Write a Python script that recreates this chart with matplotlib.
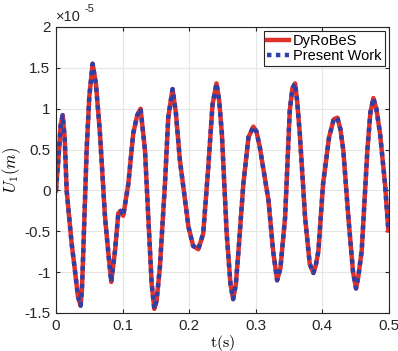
import numpy as np
import matplotlib
matplotlib.use('Agg')
import matplotlib.pyplot as plt
from matplotlib.ticker import FuncFormatter

# values (displacement in units of 1e-5 m)
t = [0, 0.0035, 0.007, 0.010, 0.013, 0.016, 0.020, 0.0235, 0.028, 0.033, 0.037, 0.039,
     0.041, 0.046, 0.050, 0.055, 0.060, 0.066, 0.0736, 0.079, 0.083, 0.0886, 0.0936,
     0.097, 0.101, 0.1086, 0.116, 0.122, 0.127, 0.1336, 0.1386, 0.1436, 0.1476, 0.151,
     0.156, 0.1636, 0.1686, 0.175, 0.180, 0.186, 0.199, 0.206, 0.2137, 0.221, 0.2287,
     0.235, 0.241, 0.245, 0.249, 0.2563, 0.262, 0.266, 0.270, 0.274, 0.2813, 0.289,
     0.2963, 0.301, 0.306, 0.319, 0.326, 0.332, 0.337, 0.344, 0.351, 0.355, 0.359,
     0.362, 0.366, 0.374, 0.381, 0.3864, 0.390, 0.394, 0.401, 0.410, 0.417, 0.4225,
     0.427, 0.4314, 0.439, 0.446, 0.4505, 0.454, 0.459, 0.4675, 0.472, 0.4765, 0.481,
     0.4865, 0.494, 0.499]
u1 = [0, 0.37, 0.80, 0.92, 0.65, 0.0, -0.35, -0.65, -0.95, -1.30, -1.41, -1.20,
      -0.74, 0.49, 1.15, 1.55, 1.30, 0.70, -0.33, -0.80, -1.12, -0.74, -0.28,
      -0.25, -0.31, 0.08, 0.70, 0.92, 1.0, 0.49, -0.33, -1.14, -1.45, -1.35,
      -0.94, 0.08, 0.90, 1.24, 0.95, 0.37, -0.45, -0.68, -0.72, -0.53, 0.29,
      1.05, 1.31, 1.10, 0.70, -0.53, -1.15, -1.33, -1.15, -0.74, 0.08, 0.65,
      0.78, 0.72, 0.53, -0.12, -0.74, -1.10, -0.95, -0.33, 0.98, 1.25, 1.31,
      1.10, 0.70, -0.33, -0.90, -1.01, -0.92, -0.74, 0.08, 0.65, 0.87, 0.89,
      0.75, 0.49, -0.33, -1.00, -1.20, -1.05, -0.74, 0.49, 0.95, 1.13, 1.0,
      0.70, 0.08, -0.49]
xticks = [0, 0.1, 0.2, 0.3, 0.4, 0.5]
yticks = [-1.5, -1, -0.5, 0, 0.5, 1, 1.5, 2]

t = np.array(t)
u1 = np.array(u1) * 1e-5

plt.rcParams['font.family'] = ['Liberation Sans', 'DejaVu Sans']
plt.rcParams['mathtext.fontset'] = 'cm'

fig = plt.figure(figsize=(3.98, 3.51), dpi=100)
ax = fig.add_axes([0.1407, 0.1083, 0.8367, 0.8148])

ax.plot(t, u1, '-', color='#e0302a', lw=3.2, label='DyRoBeS')
ax.plot(t, u1, color='#2f3fa8', lw=3.2, dashes=(1, 1), label='Present Work')

ax.set_xlim(0, 0.5)
ax.set_ylim(-1.5e-5, 2e-5)
ax.set_xticks(xticks)
ax.xaxis.set_major_formatter(FuncFormatter(lambda v, p: '%g' % round(v, 3)))
ax.set_yticks(np.array(yticks) * 1e-5)
ax.yaxis.set_major_formatter(FuncFormatter(lambda v, p: '%g' % round(v * 1e5, 3)))
# exponent label above the axes, MATLAB style
ax.text(0.0, 1.012, '\u00d710', transform=ax.transAxes, fontsize=10.5,
        color='#262626', ha='left', va='bottom')
ax.text(0.087, 1.045, '-5', transform=ax.transAxes, fontsize=8,
        color='#262626', ha='left', va='bottom')

ax.grid(True, color='#e6e6e6', lw=0.8)
ax.set_axisbelow(True)
ax.tick_params(direction='in', length=3, width=0.8, labelsize=11,
               colors='#262626', top=True, right=True, pad=4)
for s in ax.spines.values():
    s.set_color('#262626')
    s.set_linewidth(0.8)

ax.set_xlabel(r'$\mathrm{t(s)}$', fontsize=11.5, labelpad=0)
ax.set_ylabel(r'$U_1(m)$', fontsize=12, labelpad=1)

leg = ax.legend(loc='upper right', fontsize=10.5, handlelength=1.5, handletextpad=0.3,
                borderpad=0.2, labelspacing=0.05, fancybox=False, framealpha=1,
                borderaxespad=0.3)
leg.get_frame().set_edgecolor('#262626')
leg.get_frame().set_linewidth(0.8)

fig.savefig('out.png', dpi=100)
